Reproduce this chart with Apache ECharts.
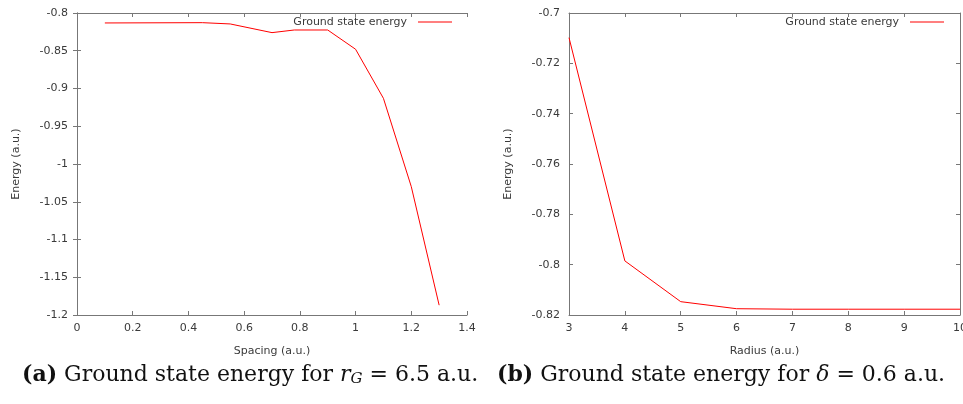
<!DOCTYPE html>
<html>
<head>
<meta charset="utf-8">
<script src="https://cdn.jsdelivr.net/npm/echarts@6/dist/echarts.min.js"></script>
<style>html,body{margin:0;padding:0;background:#fff;}#c{width:963px;height:404px;}</style>
</head>
<body>
<div id="c"></div>
<script>
// Data
const spacing = [0.1, 0.45, 0.55, 0.7, 0.78, 0.9, 1.0, 1.1, 1.2, 1.3];
const energyA = [-0.8132, -0.8128, -0.8145, -0.826, -0.8225, -0.8225, -0.848, -0.913, -1.03, -1.187];
const radius = [3, 4, 5, 6, 7, 8, 9, 10];
const energyB = [-0.7098, -0.7985, -0.8147, -0.8175, -0.8177, -0.8177, -0.8177, -0.8177];
const seriesName = 'Ground state energy';

const chart = echarts.init(document.getElementById('c'), null, {renderer: 'canvas'});
const axisColor = '#777';
const labelColor = '#3a3a3a';
const lineColor = '#ff0000';
const font = 'DejaVu Sans';

function xAxisMain(grid, min, max, interval, name, fmt) {
  return {
    type: 'value', gridIndex: grid, min: min, max: max, interval: interval,
    name: name, nameLocation: 'middle', nameGap: 31,
    nameTextStyle: {fontFamily: font, fontSize: 11, color: labelColor},
    axisLine: {show: true, lineStyle: {color: axisColor, width: 1}},
    axisTick: {show: true, inside: true, length: 4, lineStyle: {color: axisColor}},
    axisLabel: {fontFamily: font, fontSize: 11, color: labelColor, margin: 8, formatter: fmt, hideOverlap: false, showMinLabel: true, showMaxLabel: true},
    splitLine: {show: false}
  };
}
function xAxisMirror(grid, min, max, interval) {
  return {
    type: 'value', gridIndex: grid, position: 'top', min: min, max: max, interval: interval,
    axisLine: {show: true, lineStyle: {color: axisColor, width: 1}},
    axisTick: {show: true, inside: true, length: 4, lineStyle: {color: axisColor}},
    axisLabel: {show: false}, splitLine: {show: false}
  };
}
function yAxisMain(grid, min, max, interval, name) {
  return {
    type: 'value', gridIndex: grid, min: min, max: max, interval: interval,
    name: name, nameLocation: 'middle', nameGap: 55,
    nameTextStyle: {fontFamily: font, fontSize: 11, color: labelColor},
    axisLine: {show: true, lineStyle: {color: axisColor, width: 1}},
    axisTick: {show: true, inside: true, length: 4, lineStyle: {color: axisColor}},
    axisLabel: {fontFamily: font, fontSize: 11, color: labelColor, margin: 9,
      formatter: v => String(parseFloat(v.toFixed(4)))},
    splitLine: {show: false}
  };
}
function yAxisMirror(grid, min, max, interval) {
  return {
    type: 'value', gridIndex: grid, position: 'right', min: min, max: max, interval: interval,
    axisLine: {show: true, lineStyle: {color: axisColor, width: 1}},
    axisTick: {show: true, inside: true, length: 4, lineStyle: {color: axisColor}},
    axisLabel: {show: false}, splitLine: {show: false}
  };
}

const fmtX = v => String(parseFloat(v.toFixed(2)));
function makeLegend(right) {
  return {
    top: 11.5, right: right - 5, align: 'right', itemWidth: 34, itemHeight: 1, itemGap: 0,
    icon: 'rect',
    inactiveColor: lineColor, inactiveBorderColor: lineColor,
    itemStyle: {color: lineColor, borderColor: lineColor, borderWidth: 0, opacity: 1},
    lineStyle: {color: lineColor, width: 1, opacity: 1},
    data: [{name: seriesName, itemStyle: {color: lineColor, borderColor: lineColor, borderWidth: 0}}],
    selectedMode: false,
    textStyle: {fontFamily: font, fontSize: 11, color: labelColor, padding: [0, 6, 0, 0]}
  };
}
function caption(left, text, rich) {
  return {type: 'text', left: left, top: 364, style: {
    text: text, fontFamily: 'DejaVu Serif', fontSize: 22, fill: '#111', rich: rich
  }};
}

const option = {
  animation: false,
  backgroundColor: '#fff',
  color: [lineColor],
  grid: [
    {left: 77, top: 13, width: 390, height: 302, outerBoundsMode: 'none', containLabel: false},
    {left: 569, top: 13, width: 391, height: 302, outerBoundsMode: 'none', containLabel: false}
  ],
  xAxis: [
    xAxisMain(0, 0, 1.4, 0.2, 'Spacing (a.u.)', fmtX),
    xAxisMirror(0, 0, 1.4, 0.2),
    xAxisMain(1, 3, 10, 1, 'Radius (a.u.)', fmtX),
    xAxisMirror(1, 3, 10, 1)
  ],
  yAxis: [
    yAxisMain(0, -1.2, -0.8, 0.05, 'Energy (a.u.)'),
    yAxisMirror(0, -1.2, -0.8, 0.05),
    yAxisMain(1, -0.82, -0.7, 0.02, 'Energy (a.u.)'),
    yAxisMirror(1, -0.82, -0.7, 0.02)
  ],
  legend: [makeLegend(511), makeLegend(19)],
  series: [
    {name: seriesName, type: 'line', xAxisIndex: 0, yAxisIndex: 0, showSymbol: false, symbol: 'none',
     lineStyle: {color: lineColor, width: 1}, itemStyle: {color: lineColor},
     data: spacing.map((x, i) => [x, energyA[i]])},
    {name: seriesName, type: 'line', xAxisIndex: 2, yAxisIndex: 2, showSymbol: false, symbol: 'none',
     lineStyle: {color: lineColor, width: 1}, itemStyle: {color: lineColor},
     data: radius.map((x, i) => [x, energyB[i]])}
  ],
  graphic: [
    caption(22, '{b|(a)} Ground state energy for {i|r}{s|G} = 6.5 a.u.', {
      b: {fontFamily: 'DejaVu Serif', fontWeight: 'bold', fontSize: 22, fill: '#111'},
      i: {fontFamily: 'DejaVu Serif', fontStyle: 'italic', fontSize: 22, fill: '#111'},
      s: {fontFamily: 'DejaVu Serif', fontStyle: 'italic', fontSize: 15, fill: '#111', verticalAlign: 'bottom', padding: [9, 0, 0, 0]}
    }),
    caption(497, '{b|(b)} Ground state energy for {i|δ} = 0.6 a.u.', {
      b: {fontFamily: 'DejaVu Serif', fontWeight: 'bold', fontSize: 22, fill: '#111'},
      i: {fontFamily: 'DejaVu Serif', fontStyle: 'italic', fontSize: 22, fill: '#111'}
    })
  ]
};
chart.setOption(option);
</script>
</body>
</html>
